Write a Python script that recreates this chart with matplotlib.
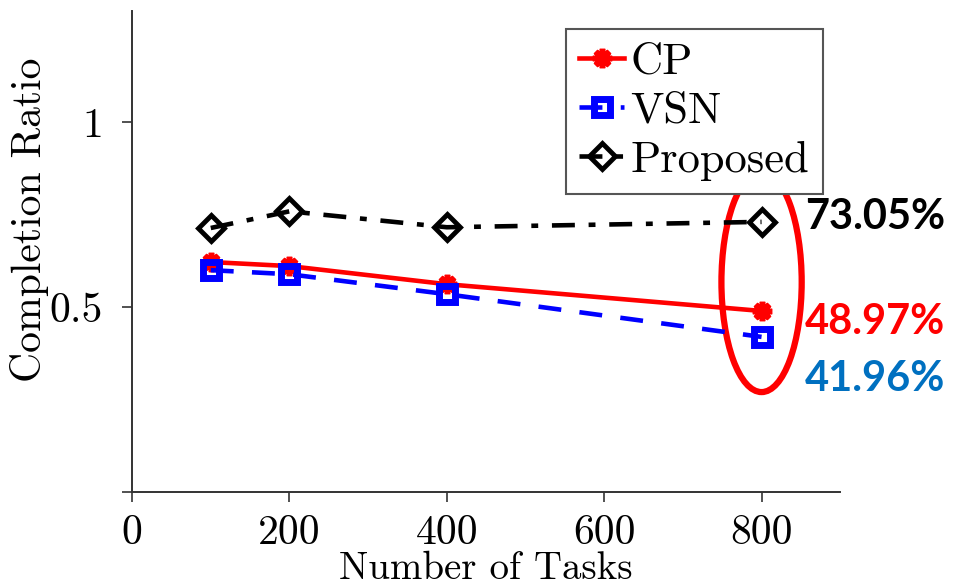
import numpy as np
from matplotlib import pyplot as plt
from matplotlib.patches import Ellipse

plt.rcParams['font.family'] = 'cmr10'
plt.rcParams['mathtext.fontset'] = 'cm'

# data
tasks = [100, 200, 400, 800]
cp = [0.622, 0.611, 0.562, 0.4897]
vsn = [0.600, 0.589, 0.535, 0.4196]
proposed = [0.714, 0.759, 0.716, 0.7305]
xticks = [0, 200, 400, 600, 800]
yticks = [0, 0.5, 1]
ytick_labels = ['', '0.5', '1']
notes = ['73.05%', '48.97%', '41.96%']
note_y = [0.743, 0.459, 0.305]
note_colors = ['black', 'red', '#0070C0']

fig = plt.figure(figsize=(9.57, 5.88), dpi=100)
ax = fig.add_axes([0.138, 0.163, 0.740, 0.818])

ax.plot(tasks, cp, '-', color='red', lw=3.3, marker=(8, 2, 0),
        ms=14, mew=4, label='CP')
ax.plot(tasks, vsn, '--', color='blue', lw=3.3, dashes=(5, 4), marker='s',
        ms=11, mew=5, mfc='none', label='VSN')
ax.plot(tasks, proposed, '-.', color='black', lw=3.3, dashes=(5, 3, 1.5, 3),
        marker='D', ms=13, mew=3.5, mfc='none', label='Proposed')

ax.set_xlim(0, 900)
ax.set_ylim(0, 1.3)
ax.set_xticks(xticks)
ax.set_xticklabels([str(t) for t in xticks])
ax.set_yticks(yticks)
ax.set_yticklabels(ytick_labels)
ax.tick_params(direction='out', length=7, width=1.2, labelsize=30, pad=14,
               color='#333333')
ax.tick_params(axis='x', pad=9)

for s in ['top', 'right']:
    ax.spines[s].set_visible(False)
for s in ['left', 'bottom']:
    ax.spines[s].set_linewidth(1.4)
    ax.spines[s].set_color('#333333')

ax.set_xlabel('Number of Tasks', fontsize=28)
ax.xaxis.set_label_coords(0.5, -0.122)
ax.set_ylabel('Completion Ratio', fontsize=30)
ax.yaxis.set_label_coords(-0.118, 0.567)

leg = ax.legend(loc='upper right', bbox_to_anchor=(0.975, 0.962), fontsize=32,
                handlelength=1.0, handletextpad=0.15, borderpad=0.3,
                labelspacing=0.2, fancybox=False, framealpha=1,
                borderaxespad=0)
leg.get_frame().set_edgecolor('#555555')
leg.get_frame().set_linewidth(1.5)

ell = Ellipse((800, 0.568), 102, 0.595, fill=False, edgecolor='red', lw=4.5,
              clip_on=False)
ax.add_patch(ell)

for txt, y, c in zip(notes, note_y, note_colors):
    ax.text(855, y, txt, color=c, fontsize=30, fontweight='bold',
            family='Lato', va='center', ha='left', clip_on=False)

fig.savefig('out.png', dpi=100)
